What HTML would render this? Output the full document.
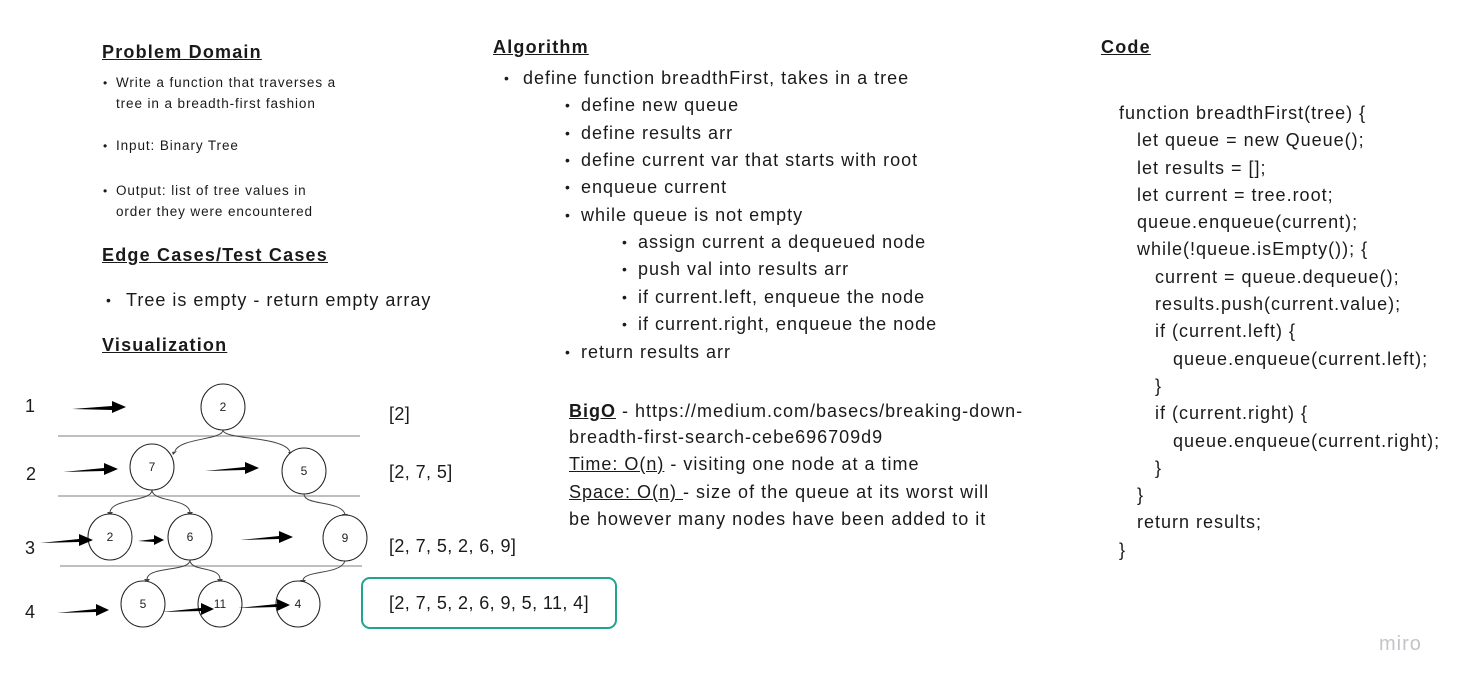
<!DOCTYPE html>
<html><head><meta charset="utf-8"><style>
body{margin:0;width:1459px;height:685px;background:#fff;position:relative;overflow:hidden;font-family:"Liberation Sans",sans-serif;color:#1a1a1a}
.t{position:absolute;white-space:nowrap;line-height:24px;font-size:18px;letter-spacing:1px}
.h{font-weight:bold;text-decoration:underline;font-size:18px;letter-spacing:1.2px}
.s{font-size:13.5px;line-height:20px;letter-spacing:0.9px}
.b{position:absolute;font-size:12px;line-height:20px}
.a{letter-spacing:0.4px}
.u{text-decoration:underline}
</style></head><body>
<div class="t h" style="left:102px;top:40px">Problem Domain</div>
<div class="b" style="left:103px;top:73px">•</div>
<div class="t s" style="left:116px;top:73px">Write a function that traverses a</div>
<div class="t s" style="left:116px;top:94px">tree in a breadth-first fashion</div>
<div class="b" style="left:103px;top:136px">•</div>
<div class="t s" style="left:116px;top:136px">Input: Binary Tree</div>
<div class="b" style="left:103px;top:181px">•</div>
<div class="t s" style="left:116px;top:181px">Output: list of tree values in</div>
<div class="t s" style="left:116px;top:202px">order they were encountered</div>
<div class="t h" style="left:102px;top:243px">Edge Cases/Test Cases</div>
<div class="t" style="left:106px;top:288px;font-size:14px">•</div>
<div class="t" style="left:126px;top:288px">Tree is empty - return empty array</div>
<div class="t h" style="left:102px;top:333px">Visualization</div>

<div class="t h" style="left:493px;top:35px">Algorithm</div>
<div class="t" style="left:504px;top:66px;font-size:14px">•</div><div class="t" style="left:523px;top:66px">define function breadthFirst, takes in a tree</div>
<div class="t" style="left:565px;top:93px;font-size:14px">•</div><div class="t" style="left:581px;top:93px">define new queue</div>
<div class="t" style="left:565px;top:121px;font-size:14px">•</div><div class="t" style="left:581px;top:121px">define results arr</div>
<div class="t" style="left:565px;top:148px;font-size:14px">•</div><div class="t" style="left:581px;top:148px">define current var that starts with root</div>
<div class="t" style="left:565px;top:175px;font-size:14px">•</div><div class="t" style="left:581px;top:175px">enqueue current</div>
<div class="t" style="left:565px;top:203px;font-size:14px">•</div><div class="t" style="left:581px;top:203px">while queue is not empty</div>
<div class="t" style="left:622px;top:230px;font-size:14px">•</div><div class="t" style="left:638px;top:230px">assign current a dequeued node</div>
<div class="t" style="left:622px;top:257px;font-size:14px">•</div><div class="t" style="left:638px;top:257px">push val into results arr</div>
<div class="t" style="left:622px;top:285px;font-size:14px">•</div><div class="t" style="left:638px;top:285px">if current.left, enqueue the node</div>
<div class="t" style="left:622px;top:312px;font-size:14px">•</div><div class="t" style="left:638px;top:312px">if current.right, enqueue the node</div>
<div class="t" style="left:565px;top:340px;font-size:14px">•</div><div class="t" style="left:581px;top:340px">return results arr</div>

<div class="t" style="left:569px;top:399px"><b class="u">BigO</b> - https://medium.com/basecs/breaking-down-</div>
<div class="t" style="left:569px;top:425px">breadth-first-search-cebe696709d9</div>
<div class="t" style="left:569px;top:452px"><span class="u">Time: O(n)</span> - visiting one node at a time</div>
<div class="t" style="left:569px;top:480px"><span class="u">Space: O(n) </span>- size of the queue at its worst will</div>
<div class="t" style="left:569px;top:507px">be however many nodes have been added to it</div>

<div class="t h" style="left:1101px;top:35px">Code</div>
<div style="position:absolute;left:1119px;top:100px;font-size:18px;line-height:27.3px;white-space:pre;letter-spacing:1px">function breadthFirst(tree) {
   let queue = new Queue();
   let results = [];
   let current = tree.root;
   queue.enqueue(current);
   while(!queue.isEmpty()); {
      current = queue.dequeue();
      results.push(current.value);
      if (current.left) {
         queue.enqueue(current.left);
      }
      if (current.right) {
         queue.enqueue(current.right);
      }
   }
   return results;
}</div>
<div class="t" style="left:1379px;top:632px;font-size:20px;color:#c4c4c8;letter-spacing:1px">miro</div>

<div class="t" style="left:25px;top:394px">1</div>
<div class="t" style="left:26px;top:462px">2</div>
<div class="t" style="left:25px;top:536px">3</div>
<div class="t" style="left:25px;top:600px">4</div>
<div class="t a" style="left:389px;top:402px">[2]</div>
<div class="t a" style="left:389px;top:460px">[2, 7, 5]</div>
<div class="t a" style="left:389px;top:534px">[2, 7, 5, 2, 6, 9]</div>
<div class="t a" style="left:389px;top:591px">[2, 7, 5, 2, 6, 9, 5, 11, 4]</div>
<div style="position:absolute;left:361px;top:577px;width:252px;height:48px;border:2.5px solid #1fa58c;border-radius:9px"></div>

<svg style="position:absolute;left:0;top:0" width="1459" height="685">
<g stroke="#999" stroke-width="1.2">
<line x1="58" y1="436" x2="360" y2="436"/><line x1="58" y1="496" x2="360" y2="496"/><line x1="60" y1="566" x2="362" y2="566"/>
</g>
<g fill="none" stroke="#444" stroke-width="1">
<path d="M223 430 C223 440 180 438 175 451"/><path d="M223 430 C223 440 285 436 290 452"/>
<path d="M152 490 C152 502 112 498 110 512"/><path d="M152 490 C152 502 188 498 190 512"/>
<path d="M304 494 C304 506 340 500 345 514"/>
<path d="M190 560 C190 572 148 566 147 579"/><path d="M190 560 C190 572 220 566 220 579"/>
<path d="M345 561 C340 575 305 570 303 580"/>
</g>
<g fill="#444">
<path d="M172 452 l5 -1 l-4 4z"/><path d="M288 452 l5 0 l-2 4z"/>
<path d="M107 512 l6 0 l-3 4z"/><path d="M187 512 l6 0 l-3 4z"/><path d="M342 514 l6 0 l-3 4z"/>
<path d="M144 579 l6 0 l-3 4z"/><path d="M217 579 l6 0 l-3 4z"/><path d="M300 580 l6 0 l-3 4z"/>
</g>
<g fill="#fff" stroke="#222" stroke-width="1">
<ellipse cx="223" cy="407" rx="22" ry="23"/>
<ellipse cx="152" cy="467" rx="22" ry="23"/><ellipse cx="304" cy="471" rx="22" ry="23"/>
<ellipse cx="110" cy="537" rx="22" ry="23"/><ellipse cx="190" cy="537" rx="22" ry="23"/><ellipse cx="345" cy="538" rx="22" ry="23"/>
<ellipse cx="143" cy="604" rx="22" ry="23"/><ellipse cx="220" cy="604" rx="22" ry="23"/><ellipse cx="298" cy="604" rx="22" ry="23"/>
</g>
<g font-family="Liberation Sans,sans-serif" font-size="12" fill="#222" text-anchor="middle">
<text x="223" y="411">2</text><text x="152" y="471">7</text><text x="304" y="475">5</text>
<text x="110" y="541">2</text><text x="190" y="541">6</text><text x="345" y="542">9</text>
<text x="143" y="608">5</text><text x="220" y="608">11</text><text x="298" y="608">4</text>
</g>
<g fill="#000">
<path d="M72 409 L112 406 L112 401 L126 407 L112 413 L112 410 Z"/>
<path d="M63 472 L104 468 L104 463 L118 469 L104 475 L104 471 Z"/>
<path d="M205 471 L245 467 L245 462 L259 468 L245 474 L245 470 Z"/>
<path d="M40 543 L79 539 L79 534 L93 540 L79 546 L79 542 Z"/>
<path d="M138 541 L154 539 L154 535 L164 540 L154 545 L154 542 Z"/>
<path d="M240 540 L279 536 L279 531 L293 537 L279 543 L279 539 Z"/>
<path d="M57 613 L96 609 L96 604 L109 610 L96 616 L96 612 Z"/>
<path d="M162 612 L201 608 L201 603 L214 609 L201 615 L201 611 Z"/>
<path d="M238 608 L277 604 L277 599 L290 605 L277 611 L277 607 Z"/>
</g>
</svg>
</body></html>
